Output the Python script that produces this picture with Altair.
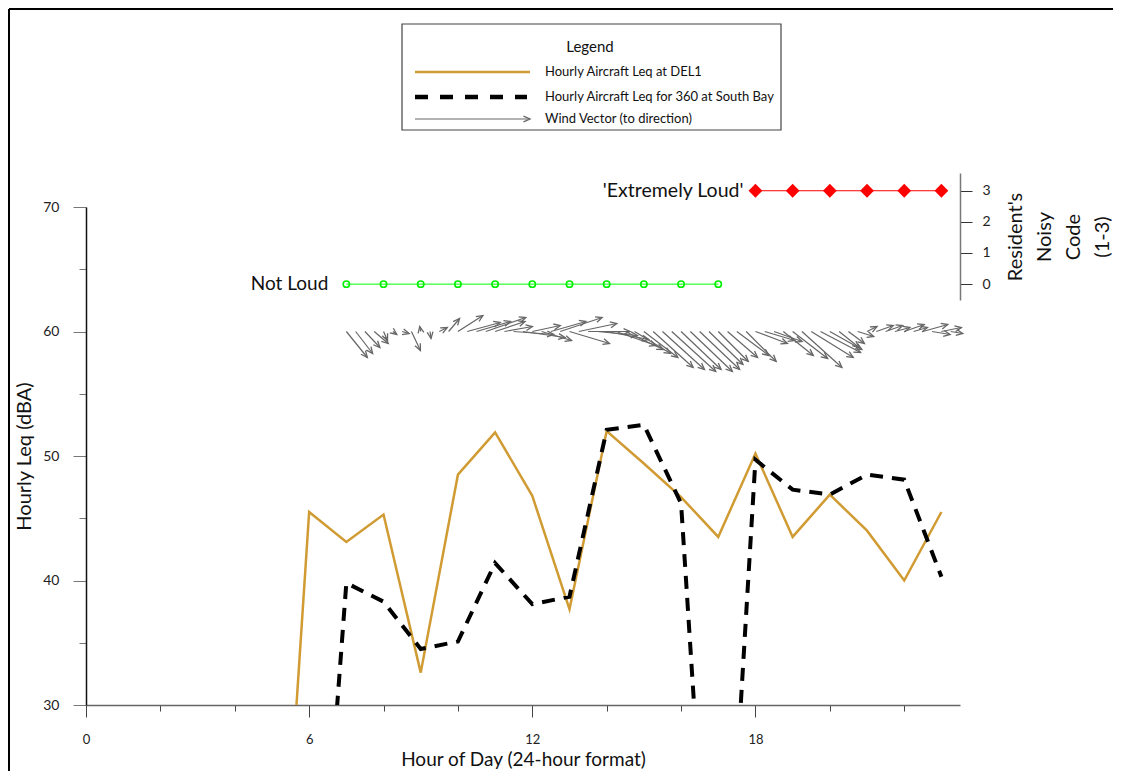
import math
import altair as alt
import pandas as pd

# ---------------- data ----------------
hours = [0, 1, 2, 3, 4, 5, 6, 7, 8, 9, 10, 11, 12, 13, 14, 15, 16, 17, 18, 19, 20, 21, 22, 23]
del1_leq = [0, 0, 0, 0, 0, 0, 45.5, 43.1, 45.3, 32.6, 48.5, 51.9, 46.8, 37.7,
            52.0, 49.4, 46.7, 43.5, 50.2, 43.5, 46.9, 44.0, 40.0, 45.5]
southbay_leq = [0, 0, 0, 0, 0, 0, 0, 39.8, 38.3, 34.5, 35.1, 41.4, 38.1, 38.7,
                52.1, 52.5, 46.2, 0, 49.7, 47.3, 46.9, 48.5, 48.1, 40.3]

not_loud_hours = [7, 8, 9, 10, 11, 12, 13, 14, 15, 16, 17]
not_loud_code = [0, 0, 0, 0, 0, 0, 0, 0, 0, 0, 0]
ext_loud_hours = [18, 19, 20, 21, 22, 23]
ext_loud_code = [3, 3, 3, 3, 3, 3]

annot_text = ["Not Loud", "'Extremely Loud'"]
annot_hour = [7, 18]
annot_code = [0, 3]

wind_level = 60
wind_hours = [7.0, 7.25, 7.5, 7.75, 8.0, 8.25, 8.5, 8.75, 9.0, 9.25, 9.5, 9.75,
              10.0, 10.25, 10.5, 10.75, 11.0, 11.25, 11.5, 11.75, 12.0, 12.25, 12.5, 12.75,
              13.0, 13.25, 13.5, 13.75, 14.0, 14.25, 14.5, 14.75, 15.0, 15.25, 15.5, 15.75,
              16.0, 16.25, 16.5, 16.75, 17.0, 17.25, 17.5, 17.75, 18.0, 18.25, 18.5, 18.75,
              19.0, 19.25, 19.5, 19.75, 20.0, 20.25, 20.5, 20.75, 21.0, 21.25, 21.5, 21.75,
              22.0, 22.25, 22.5, 22.75, 23.0, 23.25]
# wind components (east, north) in display units
wind_u = [21, 17, 15, 14, 4, 4, 7, 9, -1, 1, 8, 11,
          25, 33, 34, 40, 30, 28, 40, 42, 28, 30, 35, 42,
          40, 38, 42, 40, 42, 40, 38, 36, 34, 40, 42, 44,
          40, 42, 40, 34, 30, 30, 32, 30, 32, 30, 28, 30,
          35, 40, 42, 40, 32, 20, 16, 16, 10, 17, 17, 15,
          20, 14, 25, 18, 20, 12]
wind_v = [-26, -22, -16, -12, -9, -3, -2, -19, 5, -7, 4, 13,
          16, 9, 10, 14, 10, 5, -3, -6, 6, -9, 10, 14,
          -12, 8, 0, -4, -8, -14, -18, -22, -26, -36, -38, -40,
          -38, -40, -38, -33, -30, -26, -24, -30, -12, -9, -10, -24,
          -27, -36, -26, -21, -18, -16, -12, -5, 5, 6, 6, 4,
          7, 4, 7, -3, 4, -2]

legend_labels = ["Hourly Aircraft Leq at DEL1",
                 "Hourly Aircraft Leq for 360 at South Bay",
                 "Wind Vector (to direction)"]

# ---------------- layout / style ----------------
PLOT_W, PLOT_H = 874, 498
PAD = {"left": 78, "top": 199, "right": 153, "bottom": 66}
X_MAX = 23.5
Y_MIN, Y_MAX = 30, 70
HOUR_PX = PLOT_W / X_MAX
DB_PX = PLOT_H / (Y_MAX - Y_MIN)
FONT = "Lato"
GOLD = "#D19B34"
GREY = "#666666"
CHEVRON = "M -0.45 1 L 0 0 L 0.45 1"

leq = pd.DataFrame({"hour": hours, "del1": del1_leq, "sb": southbay_leq})
notloud = pd.DataFrame({"hour": not_loud_hours, "code": not_loud_code})
extloud = pd.DataFrame({"hour": ext_loud_hours, "code": ext_loud_code})
annot = pd.DataFrame({"hour": annot_hour, "code": annot_code, "txt": annot_text})

wind = pd.DataFrame({"hour": wind_hours, "u": wind_u, "v": wind_v})
wind["base"] = wind_level
wind["hour_end"] = wind["hour"] + wind["u"] / HOUR_PX
wind["y_end"] = wind["base"] + wind["v"] / DB_PX
wind["angle"] = [(math.degrees(math.atan2(u, v)) + 360) % 360 for u, v in zip(wind["u"], wind["v"])]

x_axis = alt.Axis(
    values=hours,
    labelExpr="datum.value % 6 === 0 ? datum.label : ''",
    tickSize={"condition": {"test": "datum.value % 6 === 0", "value": 12}, "value": 6},
    tickColor="#444444", domainColor="#666666", domainWidth=1.5,
    labelFontSize=13, labelPadding=16, labelFlush=False, labelOverlap=False,
    labelColor="#222222", labelFont=FONT,
    title="Hour of Day (24-hour format)", titleFontSize=19, titleFontWeight="normal",
    titlePadding=4, titleFont=FONT, titleColor="#111111", grid=False,
)
y_axis = alt.Axis(
    values=[30, 35, 40, 45, 50, 55, 60, 65, 70],
    labelExpr="datum.value % 10 === 0 ? datum.label : ''",
    tickSize={"condition": {"test": "datum.value % 10 === 0", "value": 13}, "value": 7},
    tickColor="#777777", domainColor="#111111", domainWidth=1.5,
    labelFontSize=14, labelPadding=14, labelColor="#222222", labelFont=FONT,
    title="Hourly Leq (dBA)", titleFontSize=20, titleFontWeight="normal",
    titlePadding=8, titleFont=FONT, titleColor="#111111", grid=False,
)
right_axis = alt.Axis(
    orient="right", values=[0, 1, 2, 3], format="d", tickSize=12, tickColor="#333333",
    domainColor="#777777", domainWidth=1.5,
    labelFontSize=14, labelPadding=10, labelColor="#222222", labelFont=FONT,
    title=["Resident's", "Noisy", "Code", "(1-3)"], titleAngle=270,
    titleFontSize=20, titleFontWeight="normal", titleLineHeight=29,
    titlePadding=-52, titleFont=FONT, titleColor="#111111", grid=False,
)

x_scale = alt.Scale(domain=[0, X_MAX], nice=False, zero=False)
db_scale = alt.Scale(domain=[Y_MIN, Y_MAX], nice=False, zero=False)
code_scale = alt.Scale(domain=[-0.51, 3.57], range=[93, -34], nice=False, zero=False)

gold = alt.Chart(leq).mark_line(color=GOLD, strokeWidth=2.5, clip=True).encode(
    x=alt.X("hour:Q", scale=x_scale, axis=x_axis),
    y=alt.Y("del1:Q", scale=db_scale, axis=y_axis),
)
dashed = alt.Chart(leq).mark_line(color="black", strokeWidth=4, strokeDash=[13, 9], clip=True).encode(
    x="hour:Q", y="sb:Q",
)
wind_lines = alt.Chart(wind).mark_rule(color=GREY, strokeWidth=1.2).encode(
    x="hour:Q", x2="hour_end:Q", y="base:Q", y2="y_end:Q",
)
wind_heads = alt.Chart(wind).mark_point(
    shape=CHEVRON, size=170, filled=False, color=GREY, strokeWidth=1.3, opacity=1
).encode(
    x="hour_end:Q", y="y_end:Q", angle=alt.Angle("angle:Q", scale=None),
)

# chrome: outer frame and legend box
one = pd.DataFrame({"k": [0]})
leg_df = pd.DataFrame({"label": legend_labels})
frame_top = alt.Chart(one).mark_rule(color="black", strokeWidth=2).encode(
    x=alt.value(-77), x2=alt.value(1040), y=alt.value(-198))
frame_left = alt.Chart(one).mark_rule(color="black", strokeWidth=2).encode(
    x=alt.value(-77), y=alt.value(-198), y2=alt.value(600))
leg_box = alt.Chart(one).mark_rect(fill="white", stroke="#444444", strokeWidth=1.2).encode(
    x=alt.value(316), x2=alt.value(695), y=alt.value(-183), y2=alt.value(-77))
leg_title = alt.Chart(one).mark_text(text="Legend", fontSize=15, font=FONT, color="#111111").encode(
    x=alt.value(504), y=alt.value(-160))
leg_l1 = alt.Chart(one).mark_rule(color=GOLD, strokeWidth=2.5).encode(
    x=alt.value(329), x2=alt.value(444), y=alt.value(-135))
leg_l2 = alt.Chart(one).mark_rule(color="black", strokeWidth=4.5, strokeDash=[13, 12]).encode(
    x=alt.value(329), x2=alt.value(441), y=alt.value(-110))
leg_l3 = alt.Chart(one).mark_rule(color=GREY, strokeWidth=1.2).encode(
    x=alt.value(329), x2=alt.value(444), y=alt.value(-88))
leg_l3h = alt.Chart(one).mark_point(shape=CHEVRON, size=170, filled=False, color=GREY,
                                    strokeWidth=1.3, opacity=1, angle=90).encode(
    x=alt.value(444), y=alt.value(-88))
leg_t1 = alt.Chart(leg_df.iloc[[0]]).mark_text(align="left", fontSize=13, font=FONT, color="#111111").encode(
    x=alt.value(459), y=alt.value(-135), text="label:N")
leg_t2 = alt.Chart(leg_df.iloc[[1]]).mark_text(align="left", fontSize=13, font=FONT, color="#111111").encode(
    x=alt.value(459), y=alt.value(-110), text="label:N")
leg_t3 = alt.Chart(leg_df.iloc[[2]]).mark_text(align="left", fontSize=13, font=FONT, color="#111111").encode(
    x=alt.value(459), y=alt.value(-88), text="label:N")

group_db = alt.layer(gold, dashed, wind_lines, wind_heads,
                     frame_top, frame_left, leg_box, leg_title,
                     leg_l1, leg_l2, leg_l3, leg_l3h, leg_t1, leg_t2, leg_t3)

green_line = alt.Chart(notloud).mark_line(color="#00FF00", strokeWidth=1).encode(
    x="hour:Q", y=alt.Y("code:Q", scale=code_scale, axis=right_axis))
green_pts = alt.Chart(notloud).mark_point(shape="circle", size=40, filled=False, color="#00EE00",
                                          strokeWidth=1.6, opacity=1).encode(x="hour:Q", y="code:Q")
red_line = alt.Chart(extloud).mark_line(color="#FF0000", strokeWidth=1).encode(x="hour:Q", y="code:Q")
red_pts = alt.Chart(extloud).mark_point(shape="diamond", size=190, filled=True, color="#FF0000",
                                        opacity=1).encode(x="hour:Q", y="code:Q")
annot_nl = alt.Chart(annot.iloc[[0]]).mark_text(align="right", dx=-18, fontSize=19, font=FONT,
                                               color="#111111").encode(x="hour:Q", y="code:Q", text="txt:N")
annot_el = alt.Chart(annot.iloc[[1]]).mark_text(align="right", dx=-12, fontSize=19.5, font=FONT,
                                               color="#111111").encode(x="hour:Q", y="code:Q", text="txt:N")

group_code = alt.layer(green_line, green_pts, red_line, red_pts, annot_nl, annot_el)

chart = alt.layer(group_db, group_code).resolve_scale(y="independent").properties(
    width=PLOT_W, height=PLOT_H, padding=PAD,
    autosize=alt.AutoSizeParams(type="none"),
).configure(font=FONT).configure_view(stroke=None)

chart.save("out.html", embed_options={"renderer": "svg", "actions": False})
